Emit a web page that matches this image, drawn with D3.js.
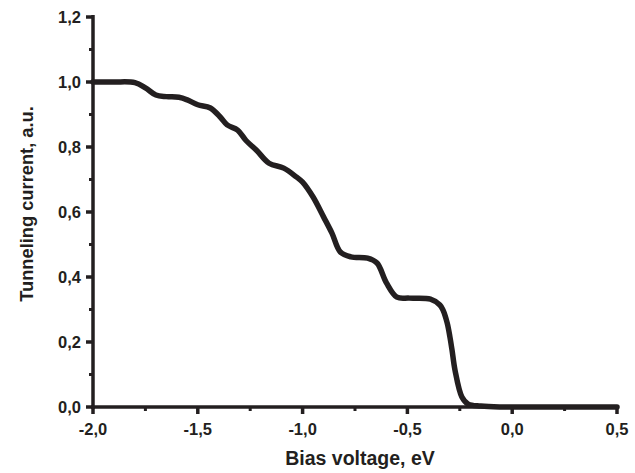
<!DOCTYPE html>
<html><head><meta charset="utf-8">
<script src="https://cdn.jsdelivr.net/npm/d3@7/dist/d3.min.js"></script>
<style>body{margin:0;background:#fff}svg{display:block}text{font-family:"Liberation Sans",Arial,sans-serif;font-weight:bold;fill:#231f20}</style>
</head><body><svg id="c" width="635" height="473"></svg>
<script>
const biasV = [-2.0,-1.9,-1.8,-1.75,-1.70,-1.65,-1.59,-1.55,-1.50,-1.44,-1.39,-1.36,-1.31,-1.27,-1.22,-1.16,-1.09,-1.03,-1.0,-0.95,-0.90,-0.86,-0.82,-0.77,-0.69,-0.645,-0.60,-0.55,-0.49,-0.39,-0.345,-0.33,-0.31,-0.297,-0.287,-0.273,-0.24,-0.21,-0.15,-0.06,0.1,0.3,0.5];
const current = [1.0,1.0,0.998,0.982,0.96,0.955,0.953,0.945,0.93,0.92,0.89,0.868,0.852,0.82,0.79,0.75,0.735,0.708,0.692,0.646,0.585,0.535,0.477,0.462,0.458,0.443,0.382,0.338,0.335,0.332,0.314,0.298,0.258,0.215,0.175,0.114,0.031,0.009,0.003,0,0,0,0];
const xTicks = [-2.0,-1.5,-1.0,-0.5,0.0,0.5];
const yTicks = [0,0.2,0.4,0.6,0.8,1.0,1.2];
const xLabel = "Bias voltage, eV", yLabel = "Tunneling current, a.u.";
const col = "#231f20";
const svg = d3.select("#c");
const x = d3.scaleLinear().domain([-2,0.5]).range([93,617]);
const y = d3.scaleLinear().domain([0,1.2]).range([407,17]);
const fmt = d => d3.format(".1f")(d).replace(".",",").replace("−","-");
const xMinor = d3.range(0,5).map(i=>-1.75+0.5*i);
const yMinor = d3.range(0,6).map(i=>0.1+0.2*i);
const gx = svg.append("g").attr("transform","translate(0,407)");
gx.append("line").attr("x1",x(-2)-2).attr("x2",x(0.5)+2).attr("stroke",col).attr("stroke-width",3.5);
gx.selectAll(".mj").data(xTicks).join("line").attr("x1",d=>x(d)).attr("x2",d=>x(d)).attr("y1",0).attr("y2",7).attr("stroke",col).attr("stroke-width",3.5);
gx.selectAll(".mn").data(xMinor).join("line").attr("x1",d=>x(d)).attr("x2",d=>x(d)).attr("y1",0).attr("y2",4).attr("stroke",col).attr("stroke-width",3);
gx.selectAll("text").data(xTicks).join("text").attr("x",d=>x(d)).attr("y",28).attr("text-anchor","middle").attr("font-size",16.5).text(fmt);
const gy = svg.append("g").attr("transform","translate(93,0)");
gy.append("line").attr("y1",y(1.2)-2).attr("y2",y(0)+2).attr("stroke",col).attr("stroke-width",3.5);
gy.selectAll(".mj").data(yTicks).join("line").attr("y1",d=>y(d)).attr("y2",d=>y(d)).attr("x1",0).attr("x2",-7).attr("stroke",col).attr("stroke-width",3.5);
gy.selectAll(".mn").data(yMinor).join("line").attr("y1",d=>y(d)).attr("y2",d=>y(d)).attr("x1",0).attr("x2",-4).attr("stroke",col).attr("stroke-width",3);
gy.selectAll("text").data(yTicks).join("text").attr("x",-12).attr("y",d=>y(d)+6).attr("text-anchor","end").attr("font-size",16.5).text(fmt);
svg.append("text").attr("x",360).attr("y",465).attr("text-anchor","middle").attr("font-size",19.5).text(xLabel);
svg.append("text").attr("transform","translate(33,204) rotate(-90)").attr("text-anchor","middle").attr("font-size",18.3).text(yLabel);
const line = d3.line().x((d,i)=>x(biasV[i])).y(d=>y(d)).curve(d3.curveCatmullRom.alpha(0.5));
svg.append("path").attr("d",line(current)).attr("fill","none").attr("stroke",col).attr("stroke-width",5.5).attr("stroke-linejoin","round").attr("stroke-linecap","round");
</script></body></html>
